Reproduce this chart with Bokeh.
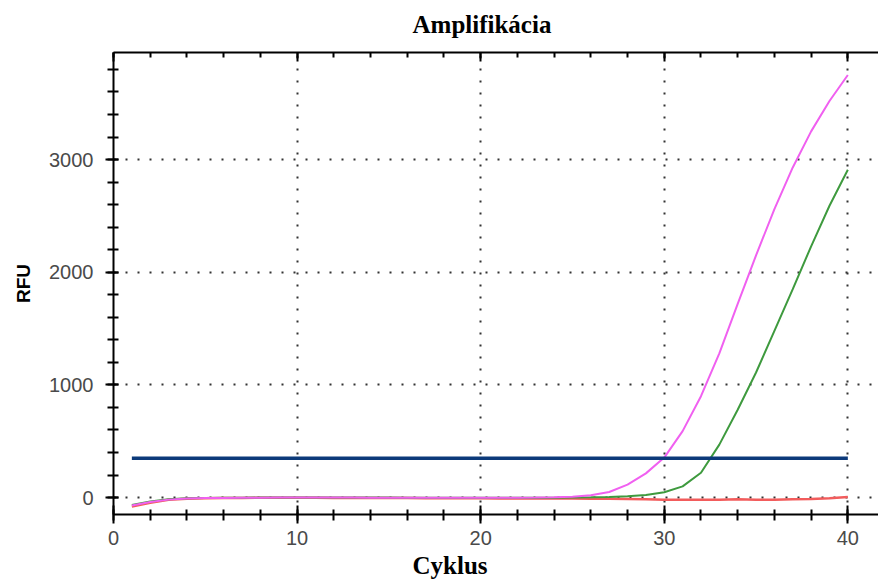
from bokeh.plotting import figure
from bokeh.models import (LinearAxis, SingleIntervalTicker, Title, Range1d,
                          CustomJSTickFormatter, FixedTicker, Grid)
from bokeh.embed import file_html
from bokeh.resources import INLINE

# ---- data ----
cycles = list(range(1, 41))
rfu_pink = [-70, -40, -18, -8, -4, -3, -2, -1, 0, 0, 0, 0, 0, -1, -1, -1, -2, -2, -2, -2,
            -2, -1, 0, 3, 8, 20, 50, 115, 215, 355, 590, 900, 1280, 1720, 2150, 2560, 2930, 3250, 3520, 3750]
rfu_green = [-65, -35, -15, -6, -3, -2, -1, 0, 0, 0, 0, 0, 0, 0, 0, -1, -1, -1, -2, -2,
             -2, -2, -2, -1, 0, 2, 5, 12, 24, 48, 100, 220, 470, 780, 1110, 1480, 1850, 2230, 2590, 2910]
rfu_red = [-80, -45, -20, -10, -6, -4, -3, -2, -2, -2, -2, -3, -3, -3, -4, -4, -5, -5, -6, -6,
           -7, -7, -8, -8, -9, -10, -10, -12, -14, -18, -20, -18, -20, -15, -18, -20, -15, -12, -5, 5]
threshold_x = [1, 40]
threshold_y = [350, 350]
x_major_ticks = [10, 20, 30, 40]
y_major_ticks = [0, 1000, 2000, 3000]

title_text = "Amplifikácia"
x_label = "Cyklus"
y_label = "RFU"

p = figure(width=878, height=580, output_backend="svg", toolbar_location=None,
           x_range=Range1d(0, 41.67), y_range=Range1d(-150, 3950),
           x_axis_type=None, y_axis_type=None,
           min_border_left=113, min_border_right=0, min_border_top=52, min_border_bottom=66)
p.outline_line_color = None
p.background_fill_color = "white"
p.border_fill_color = "white"

xt = SingleIntervalTicker(interval=10, num_minor_ticks=5)
yt = SingleIntervalTicker(interval=1000, num_minor_ticks=5)

tick_font = "Liberation Sans"
tick_color = "#4a4a4a"
empty_fmt = CustomJSTickFormatter(code="return ''")

xaxis = LinearAxis(ticker=xt, axis_line_width=2, axis_line_color="black",
                   major_tick_line_width=2, minor_tick_line_width=2,
                   major_tick_in=9, major_tick_out=9, minor_tick_in=5, minor_tick_out=6,
                   major_label_text_font=tick_font, major_label_text_font_size="20px",
                   major_label_text_color=tick_color, major_label_standoff=7)
p.add_layout(xaxis, "below")

yaxis = LinearAxis(ticker=yt, axis_line_width=2, axis_line_color="black",
                   major_tick_line_width=2, minor_tick_line_width=2,
                   major_tick_in=5, major_tick_out=8, minor_tick_in=5, minor_tick_out=6,
                   major_label_text_font=tick_font, major_label_text_font_size="20px",
                   major_label_text_color=tick_color, major_label_standoff=12,
                   axis_label=y_label, axis_label_text_font="Liberation Sans",
                   axis_label_text_font_style="bold", axis_label_text_font_size="19px",
                   axis_label_text_color="black", axis_label_standoff=12)
p.add_layout(yaxis, "left")

taxis = LinearAxis(ticker=SingleIntervalTicker(interval=10, num_minor_ticks=5),
                   axis_line_width=2, axis_line_color="black",
                   major_tick_line_width=2, minor_tick_line_width=2,
                   major_tick_in=9, major_tick_out=0, minor_tick_in=5, minor_tick_out=0,
                   formatter=empty_fmt, major_label_text_font_size="1px")
p.add_layout(taxis, "above")

# invisible spacer between the frame and the title
spacer = LinearAxis(ticker=FixedTicker(ticks=[10]), axis_line_color=None,
                    major_tick_line_color=None, minor_tick_line_color=None,
                    major_tick_in=0, major_tick_out=10, minor_tick_out=0,
                    formatter=empty_fmt, major_label_text_font_size="1px")
p.add_layout(spacer, "above")

# grids
p.add_layout(Grid(dimension=0, ticker=FixedTicker(ticks=x_major_ticks),
                  grid_line_color="#333333", grid_line_width=2, grid_line_dash="2 10"))
p.add_layout(Grid(dimension=1, ticker=FixedTicker(ticks=y_major_ticks),
                  grid_line_color="#333333", grid_line_width=2, grid_line_dash="2 10"))

# title
p.title.text = title_text
p.title.text_font = "Liberation Serif"
p.title.text_font_style = "bold"
p.title.text_font_size = "25px"
p.title.align = "left"
p.title.offset = 299
p.title.text_color = "black"

p.add_layout(Title(text=x_label, text_font="Liberation Serif", text_font_style="bold",
                   text_font_size="25px", align="left", offset=299, text_color="black",
                   standoff=4),
             "below")

# curves
p.line(cycles, rfu_red, line_color="#f25c5c", line_width=2.5)
p.line(cycles, rfu_green, line_color="#3e9a3e", line_width=2)
p.line(cycles, rfu_pink, line_color="#f060f0", line_width=2)
p.line(threshold_x, threshold_y, line_color="#0c3a7a", line_width=3.5)

open("out.html", "w").write(file_html(p, INLINE))
